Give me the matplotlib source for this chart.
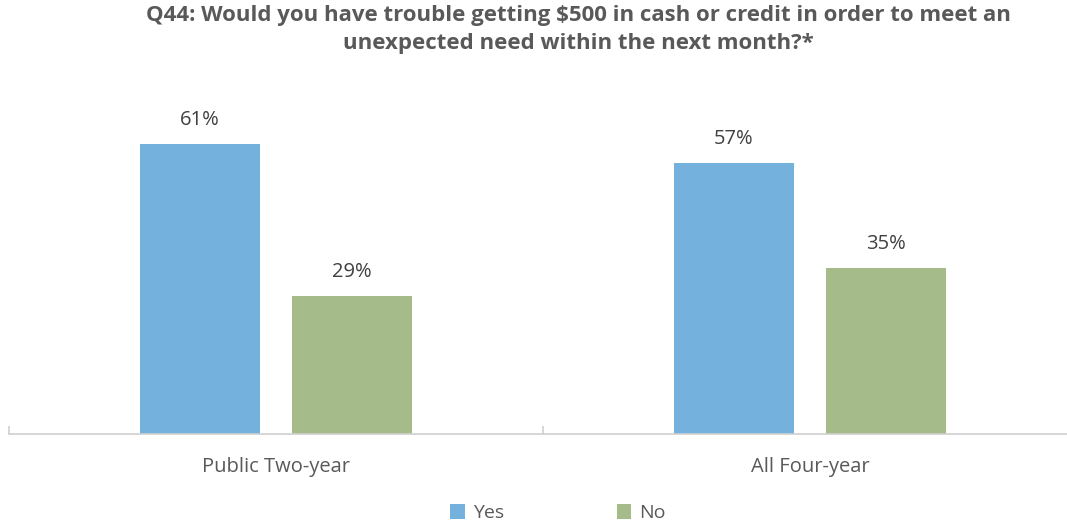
import numpy as np
import matplotlib.pyplot as plt

categories = ['Public Two-year', 'All Four-year']
yes_vals = [61, 57]
no_vals = [29, 35]
series_names = ['Yes', 'No']

title = ('Q44: Would you have trouble getting $500 in cash or credit in order to meet an\n'
         'unexpected need within the next month?*')

blue = '#75B1DD'
green = '#A5BB8A'
grey = '#595959'

plt.rcParams['font.family'] = ['Open Sans', 'DejaVu Sans']

fig = plt.figure(figsize=(10.67, 5.24), dpi=100)
ax = fig.add_axes([9 / 1067, 90 / 524, 1068 / 1067, 333 / 524])

x = np.arange(len(categories))
w = 0.223
off = 0.1423
b1 = ax.bar(x - off, yes_vals, w, color=blue, label=series_names[0])
b2 = ax.bar(x + off, no_vals, w, color=green, label=series_names[1])

for bars, vals in ((b1, yes_vals), (b2, no_vals)):
    for b, v in zip(bars, vals):
        ax.annotate(f'{v}%', (b.get_x() + b.get_width() / 2, v),
                    xytext=(0, 10), textcoords='offset points',
                    ha='center', va='bottom', fontsize=14.5, color='#404040')

ax.set_xlim(-0.5, 1.5)
ax.set_ylim(0, 70)
ax.set_yticks([])
for s in ['top', 'right', 'left']:
    ax.spines[s].set_visible(False)
ax.spines['bottom'].set_color('#D0D0D0')
ax.spines['bottom'].set_linewidth(1.2)

ax.set_xticks([-0.5, 0.5, 1.5], minor=False)
ax.set_xticklabels([])
ax.tick_params(axis='x', length=6, color='#D0D0D0', width=1.2, direction='in')
for xi, c in zip(x, categories):
    ax.text(xi, -0.07, c, transform=ax.get_xaxis_transform(),
            ha='center', va='top', fontsize=14.5, color=grey)

fig.text(0.542, 0.99, title, ha='center', va='top', fontsize=16,
         fontweight='bold', color=grey, linespacing=1.45)

fig.legend(handles=[b1, b2], loc='lower center', bbox_to_anchor=(0.523, -0.03),
           ncol=2, frameon=False, fontsize=14, handlelength=0.75, handleheight=0.75,
           columnspacing=5.8, handletextpad=0.4, labelcolor=grey)

fig.savefig('out.png', dpi=100)
